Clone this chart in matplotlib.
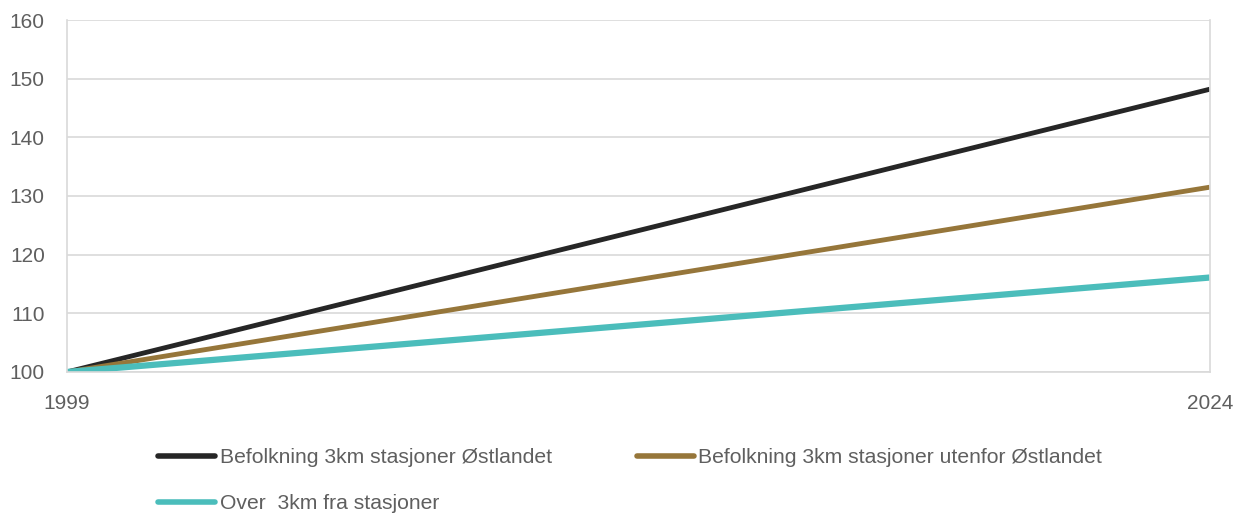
import matplotlib.pyplot as plt

years = [1999, 2024]
ostlandet = [100, 148.2]
utenfor = [100, 131.5]
over_3km = [100, 116.1]

labels = [
    "Befolkning 3km stasjoner Østlandet",
    "Befolkning 3km stasjoner utenfor Østlandet",
    "Over  3km fra stasjoner",
]
colors = ["#262626", "#96763a", "#4bbdbb"]

plt.rcParams["font.family"] = ["Liberation Sans", "DejaVu Sans"]

fig = plt.figure(figsize=(12.37, 5.13), dpi=100)
ax = fig.add_axes([0.0542, 0.2749, 0.9238, 0.6861])

l1, = ax.plot(years, ostlandet, color=colors[0], lw=3.5, solid_capstyle="butt")
l2, = ax.plot(years, utenfor, color=colors[1], lw=3.5, solid_capstyle="butt")
l3, = ax.plot(years, over_3km, color=colors[2], lw=4.5, solid_capstyle="butt")

ax.set_xlim(1999, 2024)
ax.set_ylim(100, 160)
ax.set_yticks(range(100, 161, 10))
ax.set_xticks([1999, 2024])
ax.grid(axis="y", color="#d9d9d9", lw=1.2)
ax.set_axisbelow(True)
for side in ["top", "bottom", "left", "right"]:
    ax.spines[side].set_color("#d9d9d9")
    ax.spines[side].set_linewidth(1.2)
ax.spines["top"].set_visible(False)
ax.tick_params(length=0, labelsize=15, colors="#5f5f5f")
ax.tick_params(axis="y", pad=16)
ax.tick_params(axis="x", pad=16)

leg = fig.legend(
    [l1, l3, l2],
    [labels[0], labels[2], labels[1]],
    ncol=2,
    loc="upper left",
    bbox_to_anchor=(0.1195, 0.147),
    frameon=False,
    handlelength=2.7,
    handletextpad=0.22,
    columnspacing=4.0,
    labelspacing=1.28,
    borderpad=0,
    prop={"family": ["Liberation Sans", "DejaVu Sans"], "size": 15.2},
    labelcolor="#5f5f5f",
)
for h in leg.legend_handles:
    h.set_linewidth(4.0)
    h.set_solid_capstyle("round")

fig.savefig("out.png", dpi=100)
